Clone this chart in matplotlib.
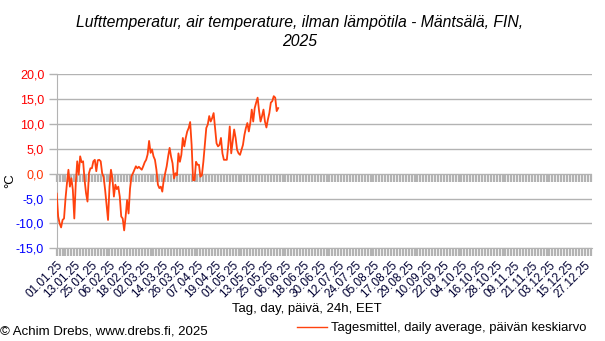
import matplotlib
matplotlib.use("Agg")
import matplotlib.pyplot as plt
import numpy as np
from matplotlib.lines import Line2D

plt.rcParams['font.family'] = ['Liberation Sans', 'DejaVu Sans']

# Daily mean temperature 2025 (day index 0 = 01.01.2025)
temps = [
    -4.0, -8.6, -10.0, -10.8, -9.3, -9.0, -5.0, -1.9, 0.8, -2.6,
    -0.9, -3.2, -9.0, -1.9, 2.5, -0.2, 3.5, 2.3, 2.5, -1.2,
    -3.9, -5.6, 0.1, 1.1, 1.1, 2.5, 2.8, 0.5, 2.7, 2.8,
    2.5, 0.1, -0.7, -3.2, -6.3, -9.3, -2.6, 0.8, -0.9, -4.6,
    -2.2, -3.1, -2.6, -4.6, -8.6, -9.0, -11.4, -8.6, -5.3, -8.0,
    -3.0, -0.5, 0.1, 0.8, 1.5, 1.1, 1.4, 1.1, 0.8, 1.5,
    2.3, 2.8, 3.9, 6.6, 4.2, 4.9, 3.5, 2.8, 0.8, -2.2,
    -2.9, -2.6, -3.6, -1.2, 0.1, 1.5, 3.5, 5.2, 3.4, 2.1,
    -0.95, 0.1, -0.3, 4.1, 2.4, 3.8, 7.2, 5.5, 7.2, 8.5,
    9.2, 10.4, 5.8, -1.3, -1.3, 2.4, 1.8, 1.8, -0.6, -0.3,
    2.4, 5.8, 9.2, 9.9, 11.6, 10.5, 11.2, 12.2, 9.2, 6.1,
    5.5, 5.8, 7.2, 4.1, 2.8, 2.8, 2.8, 5.8, 9.5, 4.1,
    6.5, 8.9, 7.2, 4.8, 4.1, 3.8, 4.8, 5.8, 7.8, 9.2,
    10.2, 8.5, 10.2, 12.9, 10.5, 13.2, 14.3, 15.3, 12.6, 10.5,
    11.6, 12.9, 10.5, 9.3, 10.9, 12.2, 14.3, 14.6, 15.6, 15.3,
    12.6, 13.2,
]

tick_labels = ["01.01.25", "13.01.25", "25.01.25", "06.02.25", "18.02.25", "02.03.25",
               "14.03.25", "26.03.25", "07.04.25", "19.04.25", "01.05.25", "13.05.25",
               "25.05.25", "06.06.25", "18.06.25", "30.06.25", "12.07.25", "24.07.25",
               "05.08.25", "17.08.25", "29.08.25", "10.09.25", "22.09.25", "04.10.25",
               "16.10.25", "28.10.25", "09.11.25", "21.11.25", "03.12.25", "15.12.25",
               "27.12.25"]
n_days = 365
y_ticks = [-15, -10, -5, 0, 5, 10, 15, 20]

grid_c = '#b3b3b3'
line_c = '#ff420e'

fig = plt.figure(figsize=(6.05, 3.41), dpi=100)
ax = fig.add_axes([56.7/605, 1-248.3/341, (592-56.7)/605, (248.3-74.3)/341])

days = np.arange(len(temps))
ax.plot(days, temps, color=line_c, lw=1.3, zorder=3)

ax.set_xlim(0, n_days)
ax.set_ylim(-15, 20)
ax.set_yticks(y_ticks)
ax.set_yticklabels([f"{v:.1f}".replace('.', ',') for v in y_ticks])
for lab, v in zip(ax.get_yticklabels(), y_ticks):
    if v > 0:
        lab.set_color('#ff0000')
    elif v == 0:
        lab.set_color('#ff3300')
    else:
        lab.set_color('#0000ff')
ax.yaxis.grid(True, color=grid_c, lw=1.0)
ax.set_axisbelow(True)
ax.tick_params(axis='y', length=6, color=grid_c, width=1.0, labelsize=9, pad=3)

major = np.arange(0, n_days, 12)
ax.set_xticks(major)
ax.set_xticklabels(tick_labels, rotation=45, ha='right', rotation_mode='anchor',
                   fontsize=8.5, color='#000033')
ax.set_xticks(np.arange(0, n_days, 2), minor=True)
ax.tick_params(axis='x', which='both', length=6, width=1.6, color=grid_c, pad=2)

# tick marks along the zero line
zero_days = np.arange(0, n_days, 2)
ax.plot(zero_days, np.zeros_like(zero_days), ls='none', marker=3, ms=6, mew=1.6,
        color=grid_c, zorder=2, clip_on=False)

for s in ['top', 'right']:
    ax.spines[s].set_visible(False)
ax.spines['left'].set_color(grid_c)
ax.spines['bottom'].set_color(grid_c)

fig.text(10/605, 1-181/341, '°C', rotation=90, ha='center', va='center', fontsize=9.5)
fig.text(307/605, 1-309/341, 'Tag, day, päivä, 24h, EET', ha='center', va='center', fontsize=9.5)

fig.text(300/605, 1-32/341,
         'Lufttemperatur, air temperature, ilman lämpötila - Mäntsälä, FIN,\n2025',
         ha='center', va='center', fontsize=11.3, style='italic', linespacing=1.25)

fig.text(0.0, 1-331/341, '© Achim Drebs, www.drebs.fi, 2025', ha='left', va='center', fontsize=9.5)

handle = Line2D([], [], color=line_c, lw=1.0)
fig.legend([handle], ['Tagesmittel, daily average, päivän keskiarvo'],
           loc='center left', bbox_to_anchor=(297/605, 1-328/341), frameon=False,
           fontsize=9.4, handlelength=2.3, handletextpad=0.3, borderpad=0, borderaxespad=0)

fig.savefig('out.png', dpi=100)
